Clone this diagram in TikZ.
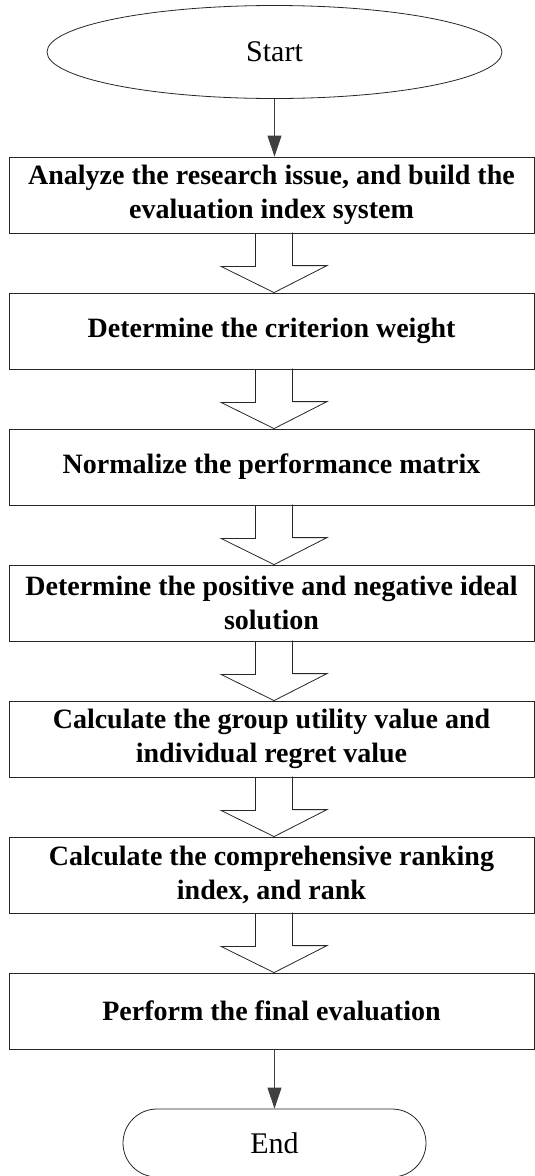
\documentclass[tikz,border=0pt]{standalone}
\usepackage{fontspec}
\setmainfont{Liberation Serif}
\usetikzlibrary{shapes.geometric, arrows.meta, calc}

\tikzset{
    stepbox/.style={
            draw=black!85, line width=0.8bp,
            minimum width=525bp, minimum height=76bp, inner sep=0pt,
            align=center, font=\fontsize{28bp}{34bp}\selectfont\bfseries
        },
    terminal/.style={
            draw=black!85, line width=0.8bp, inner sep=0pt,
            font=\fontsize{30bp}{36bp}\selectfont
        },
    flow/.style={draw=black!75, line width=0.8bp, -{Triangle[length=21bp, width=14bp]}},
    hollow/.style={draw=black!85, line width=0.8bp}
}

\begin{document}
\begin{tikzpicture}[x=1bp, y=-1bp]
            \useasboundingbox (0,0) rectangle (535,1176);
            \coordinate (axis) at (274,0);

            % start and end
            \node[terminal, ellipse, minimum width=455bp, minimum height=93bp] (start) at (274.5,52) {Start};
            \node[terminal, rectangle, rounded corners=34bp, minimum width=303bp, minimum height=68bp] (end) at (274.5,1143) {End};

            % steps
            \node[stepbox] (s1) at (271.5,195) {Analyze the research issue, and build the\\evaluation index system};
            \node[stepbox] (s2) at (271.5,331) {Determine the criterion weight};
            \node[stepbox] (s3) at (271.5,467) {Normalize the performance matrix};
            \node[stepbox] (s4) at (271.5,603) {Determine the positive and negative ideal\\solution};
            \node[stepbox] (s5) at (271.5,739) {Calculate the group utility value and\\individual regret value};
            \node[stepbox] (s6) at (271.5,875) {Calculate the comprehensive ranking\\index, and rank};
            \node[stepbox] (s7) at (271.5,1011) {Perform the final evaluation};

            % thin arrows
            \draw[flow] (start.south) -- (start.south |- s1.north);
            \draw[flow] (end.north |- s7.south) -- (end.north);

            % hollow arrows between the steps
            \foreach \u/\v in {s1/s2, s2/s3, s3/s4, s4/s5, s5/s6, s6/s7}
                {
                    \draw[hollow] ($(\u.south -| axis)+(-18.5,0)$) -- ++(0,33) -- ++(-34.5,0)
                        -- (\v.north -| axis) -- ++(53,-27) -- ++(-34.5,0) -- ++(0,-33);
                }

        \end{tikzpicture}
\end{document}
